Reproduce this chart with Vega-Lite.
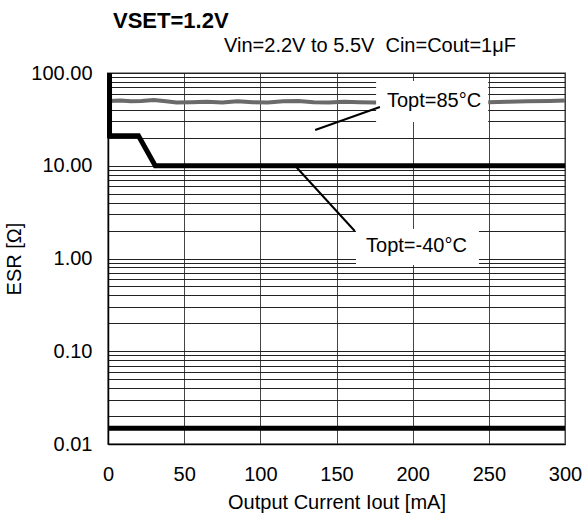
{
  "$schema": "https://vega.github.io/schema/vega-lite/v6.json",
  "autosize": "none",
  "width": 457,
  "height": 371,
  "padding": {"left": 108, "top": 73, "right": 20, "bottom": 72},
  "background": "white",
  "config": {
    "font": "Liberation Sans",
    "view": {"stroke": "#999", "strokeWidth": 2},
    "axis": {"labelFont": "Liberation Sans", "titleFont": "Liberation Sans", "labelColor": "#000", "titleColor": "#000", "titleFontWeight": "normal"}
  },
  "title": {"text": "VSET=1.2V", "anchor": "start", "frame": "group", "dx": 5, "offset": 3, "fontSize": 22, "fontWeight": "bold", "font": "Liberation Sans", "color": "#000"},
  "datasets": {
    "m40": [
      {"x": 1, "y": 100}, {"x": 1, "y": 21}, {"x": 20, "y": 21}, {"x": 31, "y": 10}, {"x": 300, "y": 10}
    ],
    "t85": [
      {"x": 1, "y": 50}, {"x": 8, "y": 50.5}, {"x": 15, "y": 49.5}, {"x": 22, "y": 50}, {"x": 30, "y": 51},
      {"x": 38, "y": 49.5}, {"x": 45, "y": 48}, {"x": 55, "y": 48.5}, {"x": 65, "y": 49}, {"x": 75, "y": 48},
      {"x": 85, "y": 49.5}, {"x": 95, "y": 48.5}, {"x": 105, "y": 48}, {"x": 115, "y": 49.5}, {"x": 125, "y": 50},
      {"x": 135, "y": 48.5}, {"x": 145, "y": 48}, {"x": 155, "y": 49}, {"x": 165, "y": 48.5}, {"x": 175, "y": 48},
      {"x": 190, "y": 48}, {"x": 210, "y": 48.5}, {"x": 250, "y": 48.5}, {"x": 262, "y": 49}, {"x": 275, "y": 49.5},
      {"x": 290, "y": 50}, {"x": 300, "y": 50.5}
    ],
    "minline": [{"x": 0, "y": 0.0148}, {"x": 300, "y": 0.0148}],
    "leaders": [
      {"id": "a", "x": 136, "y": 24.3}, {"id": "a", "x": 178.5, "y": 43},
      {"id": "b", "x": 122.8, "y": 10}, {"id": "b", "x": 162, "y": 1.98}
    ],
    "boxes": [
      {"x": 176, "x2": 249.6, "y": 29.6, "y2": 82},
      {"x": 162.8, "x2": 243.5, "y": 0.85, "y2": 2.08}
    ],
    "labels": [
      {"x": 214, "y": 49.3, "label": "Topt=85°C"},
      {"x": 202.5, "y": 1.36, "label": "Topt=-40°C"}
    ],
    "sub": [{"x": 172, "y": 195, "label": "Vin=2.2V to 5.5V\u00a0 Cin=Cout=1μF"}]
  },
  "encoding": {
    "x": {"field": "x", "type": "quantitative", "scale": {"domain": [0, 300], "nice": false, "zero": false},
      "axis": {"title": "Output Current Iout [mA]", "values": [0, 50, 100, 150, 200, 250, 300], "grid": true, "gridColor": "#444", "gridWidth": 1, "ticks": false, "domainColor": "#000", "domainWidth": 1.5, "labelFontSize": 20, "labelPadding": 20, "titleFontSize": 20, "titlePadding": 8, "labelFlush": false}},
    "y": {"field": "y", "type": "quantitative", "scale": {"type": "log", "domain": [0.01, 100], "nice": false},
      "axis": {"title": "ESR [Ω]", "values": [0.01,0.02,0.03,0.04,0.05,0.06,0.07,0.08,0.09,0.1,0.2,0.3,0.4,0.5,0.6,0.7,0.8,0.9,1,2,3,4,5,6,7,8,9,10,20,30,40,50,60,70,80,90,100],
        "labelExpr": "indexof([0.01,0.1,1,10,100], datum.value) >= 0 ? format(datum.value, '.2f') : ''",
        "grid": true, "gridColor": "#222", "gridWidth": 1, "ticks": false, "domainColor": "#000", "domainWidth": 1.5, "labelFontSize": 20, "labelPadding": 16, "titleFontSize": 20, "titlePadding": 6, "labelFlush": false}}
  },
  "layer": [
    {"data": {"name": "t85"}, "mark": {"type": "line", "color": "#6a6a6a", "strokeWidth": 4}},
    {"data": {"name": "m40"}, "mark": {"type": "line", "color": "#000", "strokeWidth": 5}},
    {"data": {"name": "minline"}, "mark": {"type": "line", "color": "#000", "strokeWidth": 5}},
    {"data": {"name": "boxes"}, "mark": {"type": "rect", "fill": "white", "stroke": null},
      "encoding": {"x2": {"field": "x2"}, "y2": {"field": "y2"}}},
    {"data": {"name": "leaders"}, "mark": {"type": "line", "color": "#000", "strokeWidth": 2},
      "encoding": {"detail": {"field": "id"}}},
    {"data": {"name": "labels"}, "mark": {"type": "text", "fontSize": 20, "color": "#000", "font": "Liberation Sans"},
      "encoding": {"text": {"field": "label"}}},
    {"data": {"name": "sub"}, "mark": {"type": "text", "fontSize": 20, "color": "#000", "font": "Liberation Sans"},
      "encoding": {"text": {"field": "label"}}}
  ]
}
